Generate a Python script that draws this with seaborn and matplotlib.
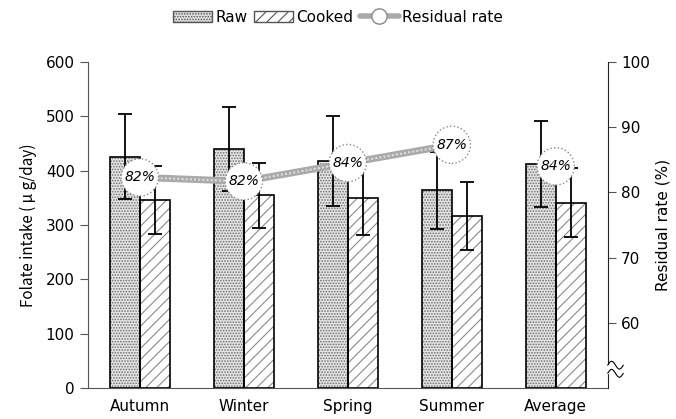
import numpy as np
import pandas as pd
import matplotlib
matplotlib.use('Agg')
import matplotlib.pyplot as plt
from matplotlib.patches import Patch
from matplotlib.lines import Line2D
import seaborn as sns

# data
seasons = ['Autumn', 'Winter', 'Spring', 'Summer', 'Average']
raw = [426, 440, 418, 364, 412]
raw_sd = [79, 78, 83, 71, 79]
cooked = [346, 355, 349, 317, 341]
cooked_sd = [63, 60, 68, 63, 63]
residual = [82.3, 81.7, 84.5, 87.3, 84.0]
residual_txt = ['82%', '82%', '84%', '87%', '84%']

sns.set_style('ticks')
plt.rcParams['font.family'] = ['DejaVu Sans', 'Noto Sans CJK JP']
plt.rcParams['hatch.linewidth'] = 0.8
plt.rcParams['text.color'] = 'black'
plt.rcParams['axes.labelcolor'] = 'black'
plt.rcParams['xtick.color'] = 'black'
plt.rcParams['ytick.color'] = 'black'

df = pd.DataFrame({
    'season': seasons * 2,
    'value': raw + cooked,
    'type': ['Raw'] * 5 + ['Cooked'] * 5,
})

fig = plt.figure(figsize=(6.76, 4.19), dpi=100)
ax = fig.add_axes([0.130, 0.074, 0.769, 0.778])

sns.barplot(data=df, x='season', y='value', hue='type', width=0.58,
            palette=['#e4e4e4', 'white'], edgecolor='#909090', linewidth=0,
            saturation=1, errorbar=None, legend=False, ax=ax)

hatches = ['......', '///']
hatch_cols = ['#707070', '#8a8a8a']
sds = [raw_sd, cooked_sd]
vals = [raw, cooked]
for cont, h, hc, sd, v in zip(ax.containers, hatches, hatch_cols, sds, vals):
    xs = []
    for bar in cont:
        bar.set_hatch(h)
        bar.set_edgecolor(hc)
        # black outline drawn on top
        ax.add_patch(plt.Rectangle((bar.get_x(), 0), bar.get_width(), bar.get_height(),
                                   fill=False, edgecolor='black', lw=1.2, zorder=3))
        xs.append(bar.get_x() + bar.get_width() / 2)
    ax.errorbar(xs, v, yerr=sd, fmt='none', ecolor='black', elinewidth=1.3,
                capsize=5, capthick=1.3, zorder=4)

ax.set_ylim(0, 600)
ax.set_xlim(-0.5, 4.5)
ax.set_yticks(np.arange(0, 601, 100))
ax.set_xlabel('')
ax.set_ylabel('Folate intake ( μ g/day)', fontsize=11, labelpad=6,
              family=['Noto Sans CJK JP', 'DejaVu Sans'])
ax.tick_params(axis='y', labelsize=11, direction='out', length=6, color='#555555')
ax.tick_params(axis='x', labelsize=11, length=0, pad=8)
ax.spines['top'].set_visible(False)
ax.spines['right'].set_visible(False)
for s in ['left', 'bottom']:
    ax.spines[s].set_color('#555555')

# residual rate on right axis
ax2 = ax.twinx()
ax2.set_ylim(50, 100)
ax2.set_yticks(np.arange(60, 101, 10))
ax2.tick_params(axis='y', labelsize=11, direction='out', length=6, color='#555555')
ax2.spines['top'].set_visible(False)
ax2.spines['left'].set_visible(False)
ax2.spines['bottom'].set_visible(False)
ax2.spines['right'].set_color('#222222')
ax2.set_ylabel('Residual rate (%)', fontsize=11, labelpad=4)

pos = np.arange(len(seasons))
ax2.plot(pos[:4], residual[:4], color='#aaaaaa', lw=5, zorder=5, solid_capstyle='butt')
ax2.plot(pos[:4], residual[:4], color='#dddddd', lw=1.5, ls=(0, (1, 1)), zorder=5)
ax2.scatter(pos, residual, s=720, facecolor='white', edgecolor='#888888',
            linewidths=1, linestyle=':', zorder=6)
for x, y, t in zip(pos, residual, residual_txt):
    ax2.text(x, y, t, ha='center', va='center', fontsize=10, style='italic', zorder=7)

# axis break mark on right axis
tt = np.linspace(0, 1, 30)
for yb in [0.045, 0.07]:
    ax2.plot(1.0 + 0.03 * tt, yb + 0.012 * np.sin(tt * 2 * np.pi),
             transform=ax2.transAxes, color='black', lw=0.8, clip_on=False, zorder=8)
ax2.fill_between(1.0 + 0.006 * np.array([-1, 1]), 0.045, 0.07, transform=ax2.transAxes,
                 color='white', clip_on=False, zorder=7)

handles = [
    Patch(facecolor='#e4e4e4', edgecolor='#555555', hatch='......', label='Raw'),
    Patch(facecolor='white', edgecolor='#555555', hatch='///', label='Cooked'),
    Line2D([0], [0], color='#aaaaaa', lw=4, marker='o', markersize=11,
           markerfacecolor='white', markeredgecolor='#888888', label='Residual rate'),
]
fig.legend(handles=handles, loc='upper center', bbox_to_anchor=(0.5, 1.01), ncol=3,
           frameon=False, fontsize=11, handlelength=2.6, handletextpad=0.2,
           columnspacing=0.4)

fig.savefig('out.png', dpi=100)
